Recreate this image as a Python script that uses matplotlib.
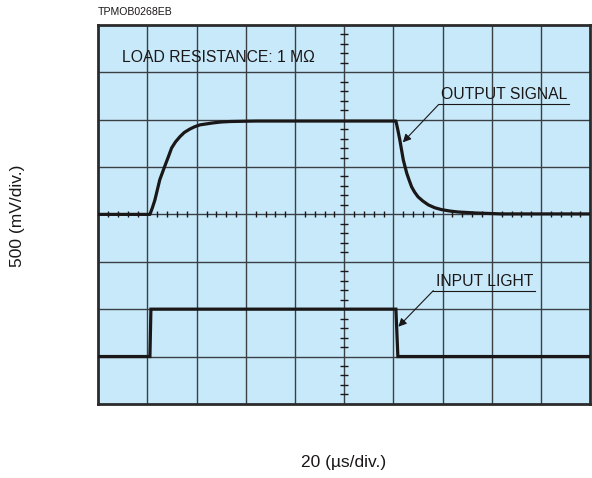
import numpy as np
import matplotlib.pyplot as plt

plt.rcParams['font.family'] = ['Liberation Sans', 'DejaVu Sans']

# traces (x in div, y in div from bottom)
out_x = [0, 1.05, 1.10, 1.15, 1.25, 1.36, 1.43, 1.49, 1.57, 1.66, 1.75, 1.86,
         1.96, 2.07, 2.2, 2.33, 2.5, 2.68, 3.2,
         6.05, 6.09, 6.13, 6.20, 6.27, 6.32, 6.37, 6.43, 6.50, 6.60, 6.71,
         6.84, 6.98, 7.15, 7.32, 7.5, 7.66, 8.2, 10]
out_y = [4.0, 4.0, 4.14, 4.30, 4.73, 5.04, 5.23, 5.40, 5.53, 5.64, 5.73, 5.80,
         5.85, 5.89, 5.91, 5.93, 5.95, 5.96, 5.97,
         5.97, 5.78, 5.57, 5.15, 4.87, 4.72, 4.58, 4.47, 4.37, 4.28, 4.20,
         4.14, 4.10, 4.07, 4.05, 4.04, 4.03, 4.01, 4.01]

in_x = [0, 1.05, 1.07, 6.05, 6.09, 10]
in_y = [1.0, 1.0, 2.0, 2.0, 1.0, 1.0]

n_xdiv = 10
n_ydiv = 8

bg = '#c8e9f9'
ink = '#1a1718'

fig = plt.figure(figsize=(5.92, 4.78), dpi=100)
ax = fig.add_axes([0.166, 0.155, 0.831, 0.793])
ax.set_facecolor(bg)
ax.set_xlim(0, n_xdiv)
ax.set_ylim(0, n_ydiv)

# graticule
for gx in range(1, n_xdiv):
    ax.axvline(gx, color='#3a3f44', lw=1.0, zorder=1)
for gy in range(1, n_ydiv):
    ax.axhline(gy, color='#3a3f44', lw=1.0, zorder=1)

# centre axes with small ticks
cx, cy = n_xdiv / 2, n_ydiv / 2
ticks_x = [t for t in np.arange(0, n_xdiv, 0.2) if abs(t - round(t)) > 0.01]
ticks_y = [t for t in np.arange(0, n_ydiv, 0.2) if abs(t - round(t)) > 0.01]
ax.vlines(ticks_x, cy - 0.065, cy + 0.065, color=ink, lw=1.0, zorder=2)
ax.hlines(ticks_y, cx - 0.08, cx + 0.08, color=ink, lw=1.0, zorder=2)

for s in ax.spines.values():
    s.set_linewidth(2.0)
    s.set_color('#2b2b2b')
ax.set_xticks([])
ax.set_yticks([])

# signals
ax.plot(out_x, out_y, color=ink, lw=2.3, solid_joinstyle='round', zorder=4)
ax.plot(in_x, in_y, color=ink, lw=2.3, solid_joinstyle='miter', zorder=4)

# labels in the graticule
fs = 11.3
ax.text(0.48, 7.31, 'LOAD RESISTANCE: 1 M\u03a9', fontsize=fs, color=ink,
        va='center', ha='left', zorder=5)

ax.text(6.97, 6.52, 'OUTPUT SIGNAL', fontsize=fs, color=ink,
        va='center', ha='left', zorder=5)
ax.plot([6.92, 9.57], [6.32, 6.32], color=ink, lw=0.8, zorder=5)
ax.annotate('', xy=(6.19, 5.52), xytext=(6.92, 6.32),
            arrowprops=dict(arrowstyle='-|>', color=ink, lw=0.8,
                            mutation_scale=12, shrinkA=0, shrinkB=0), zorder=5)

ax.text(6.86, 2.58, 'INPUT LIGHT', fontsize=fs, color=ink,
        va='center', ha='left', zorder=5)
ax.plot([6.81, 8.88], [2.39, 2.39], color=ink, lw=0.8, zorder=5)
ax.annotate('', xy=(6.10, 1.63), xytext=(6.81, 2.39),
            arrowprops=dict(arrowstyle='-|>', color=ink, lw=0.8,
                            mutation_scale=12, shrinkA=0, shrinkB=0), zorder=5)

# outside texts
fig.text(98 / 592, 1 - 12 / 478, 'TPMOB0268EB', fontsize=7.6, color=ink,
         ha='left', va='center')
fig.text(18 / 592, 1 - 216 / 478, '500 (mV/div.)', fontsize=12.5, color=ink,
         rotation=90, ha='center', va='center')
fig.text(344 / 592, 1 - 463 / 478, '20 (\u00b5s/div.)', fontsize=12.5, color=ink,
         ha='center', va='center')

fig.savefig('out.png', dpi=100)
